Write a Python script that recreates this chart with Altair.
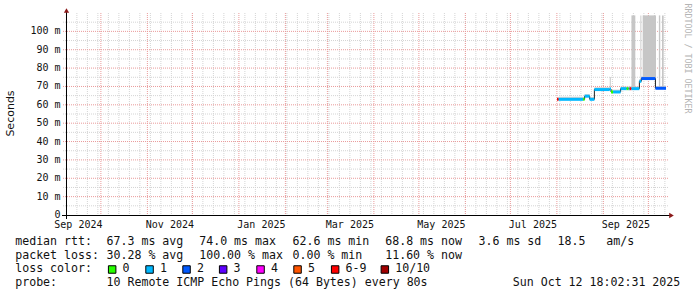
import altair as alt
import pandas as pd

# ---------------- data ----------------
seg_start = ["2025-08-01T02:00:00Z", "2025-08-02T05:00:00Z", "2025-08-18T12:00:00Z", "2025-08-19T12:00:00Z",
             "2025-08-22T21:00:00Z", "2025-08-26T00:00:00Z", "2025-09-05T05:00:00Z", "2025-09-06T02:00:00Z",
             "2025-09-07T12:00:00Z", "2025-09-12T12:00:00Z", "2025-09-16T12:00:00Z", "2025-09-17T20:00:00Z",
             "2025-09-18T12:00:00Z", "2025-09-19T17:00:00Z", "2025-09-25T00:00:00Z", "2025-09-26T07:00:00Z",
             "2025-10-05T17:00:00Z"]
seg_end = seg_start[1:] + ["2025-10-12T18:00:00Z"]
seg_median = [63.0, 63.0, 63.0, 64.7, 63.0, 68.3, 68.6, 67.0, 67.0, 68.8, 68.8, 68.8, 68.8, 68.8, 72.8, 74.3, 69.0]
seg_smoke = [64.0, 64.4, 64.2, 65.8, 64.2, 69.6, 75.2, 68.2, 68.3, 70.0, 70.0, 70.0, 70.2, 70.0, 74.0, 75.5, 70.2]
seg_loss = ["6-9", "1", "0", "1", "1", "1", "1", "0", "1", "1", "0", "1", "6-9", "1", "1", "2", "2"]

tall_start = ["2025-09-19T17:00:00Z", "2025-09-25T17:00:00Z", "2025-09-27T05:00:00Z",
              "2025-10-08T00:00:00Z", "2025-10-10T02:00:00Z"]
tall_end = ["2025-09-22T07:00:00Z", "2025-09-26T07:00:00Z", "2025-10-06T02:00:00Z",
            "2025-10-08T22:00:00Z", "2025-10-11T05:00:00Z"]
tall_low = [69.5, 73.0, 75.0, 70.0, 70.0]
tall_high = [108.7, 108.7, 108.7, 108.7, 108.7]

loss_labels = ["0", "1", "2", "3", "4", "5", "6-9", "10/10"]
loss_colors = ["#26ff00", "#00b8ff", "#0059ff", "#5e00ff", "#ff00fe", "#ff5500", "#ff0000", "#a10000"]

x_label_dates = ["2024-09-16T00:00:00Z", "2024-11-16T00:00:00Z", "2025-01-16T00:00:00Z",
                 "2025-03-16T00:00:00Z", "2025-05-16T00:00:00Z", "2025-07-16T00:00:00Z",
                 "2025-09-16T00:00:00Z"]
x_label_text = ["Sep 2024", "Nov 2024", "Jan 2025", "Mar 2025", "May 2025", "Jul 2025", "Sep 2025"]
y_tick_values = [0, 10, 20, 30, 40, 50, 60, 70, 80, 90, 100]
y_tick_text = ["0", "10 m", "20 m", "30 m", "40 m", "50 m", "60 m", "70 m", "80 m", "90 m", "100 m"]

rtt_avg, rtt_max, rtt_min, rtt_now, rtt_sd, rtt_ams = "67.3", "74.0", "62.6", "68.8", "3.6", "18.5"
loss_avg, loss_max, loss_min, loss_now = "30.28", "100.00", "0.00", "11.60"
probe_text = "10 Remote ICMP Echo Pings (64 Bytes) every 80s"
stamp_text = "Sun Oct 12 18:02:31 2025"

# ---------------- layout ----------------
W, H = 600, 202
LEFT, TOP = 66, 13
MONO = "DejaVu Sans Mono"
NB = "\u00a0"


def ms(s):
    return int(pd.Timestamp(s).timestamp() * 1000)


xs = alt.Scale(type="utc", domain=[ms("2024-09-07T18:00:00Z"), ms("2025-10-12T18:00:00Z")])
ys = alt.Scale(domain=[0, 110])

segs = pd.DataFrame({"start": seg_start, "end": seg_end, "median": seg_median,
                     "smoke": seg_smoke, "loss": seg_loss})
steps = pd.DataFrame({"t": seg_start + [seg_end[-1]], "m": seg_median + [seg_median[-1]]})
tall = pd.DataFrame({"start": tall_start, "end": tall_end, "lo": tall_low, "hi": tall_high})

sundays = [d.strftime("%Y-%m-%dT00:00:00Z") for d in pd.date_range("2024-09-08", "2025-10-12", freq="7D")]
months = [d.strftime("%Y-%m-%dT00:00:00Z") for d in pd.date_range("2024-10-01", "2025-10-01", freq="MS")]
minor_y = [v for v in range(5, 110, 5) if v % 10 != 0]
major_y = list(range(10, 110, 10))

GRID = "#d4d4d4"
MGRID = "#ea9a9a"

vminor = alt.Chart(pd.DataFrame({"d": sundays})).mark_rule(color=GRID, strokeDash=[1, 1], strokeWidth=1).encode(
    x=alt.X("d:T", scale=xs, axis=None), y=alt.value(0), y2=alt.value(H))
vmajor = alt.Chart(pd.DataFrame({"d": months})).mark_rule(color=MGRID, strokeDash=[1, 1], strokeWidth=1).encode(
    x=alt.X("d:T", scale=xs, axis=None), y=alt.value(0), y2=alt.value(H))
hminor = alt.Chart(pd.DataFrame({"v": minor_y})).mark_rule(color=GRID, strokeDash=[1, 1], strokeWidth=1).encode(
    y=alt.Y("v:Q", scale=ys, axis=None), x=alt.value(-3), x2=alt.value(W + 2))
hmajor = alt.Chart(pd.DataFrame({"v": major_y})).mark_rule(color=MGRID, strokeDash=[1, 1], strokeWidth=1).encode(
    y=alt.Y("v:Q", scale=ys, axis=None), x=alt.value(-3), x2=alt.value(W + 2))

smoke = alt.Chart(segs).mark_rect(color="#d4d4d4").encode(
    x=alt.X("start:T", scale=xs, axis=None), x2="end:T",
    y=alt.Y("median:Q", scale=ys, axis=None), y2="smoke:Q")
tallsmoke = alt.Chart(tall).mark_rect(color="#c6c6c6").encode(
    x=alt.X("start:T", scale=xs, axis=None), x2="end:T",
    y=alt.Y("lo:Q", scale=ys, axis=None), y2="hi:Q")

stepline = alt.Chart(steps).mark_line(interpolate="step-after", color="#202020", strokeWidth=1).encode(
    x=alt.X("t:T", scale=xs, axis=None), y=alt.Y("m:Q", scale=ys, axis=None))

colored = alt.Chart(segs).mark_rule(strokeWidth=3, strokeCap="butt").encode(
    x=alt.X("start:T", scale=xs, axis=None), x2="end:T",
    y=alt.Y("median:Q", scale=ys, axis=None),
    color=alt.Color("loss:N", scale=alt.Scale(domain=loss_labels, range=loss_colors), legend=None))

ylabels = alt.Chart(pd.DataFrame({"v": y_tick_values, "t": y_tick_text})).mark_text(
    font=MONO, fontSize=10, color="#111111", baseline="middle", align="right").encode(
    y=alt.Y("v:Q", scale=ys, axis=None), x=alt.value(-5.5), text="t:N")

# axes lines and arrows
xaxis = alt.Chart(pd.DataFrame({"a": [0]})).mark_rule(color="#000000", strokeWidth=1).encode(
    x=alt.value(-4), x2=alt.value(W + 4), y=alt.value(H + 0.5))
yaxis = alt.Chart(pd.DataFrame({"a": [0]})).mark_rule(color="#000000", strokeWidth=1).encode(
    x=alt.value(0.5), y=alt.value(H + 4), y2=alt.value(-3))
arrow_up = alt.Chart(pd.DataFrame({"a": [0]})).mark_point(
    shape="triangle-up", filled=True, color="#8b1a1a", size=28, opacity=1).encode(
    x=alt.value(0.5), y=alt.value(-2.5))
arrow_right = alt.Chart(pd.DataFrame({"a": [0]})).mark_point(
    shape="triangle-right", filled=True, color="#8b1a1a", size=28, opacity=1).encode(
    x=alt.value(W + 5.5), y=alt.value(H + 0.5))

xlabels = alt.Chart(pd.DataFrame({"d": x_label_dates, "t": x_label_text})).mark_text(
    font=MONO, fontSize=10, color="#111111", baseline="middle", align="center").encode(
    x=alt.X("d:T", scale=xs, axis=None), y=alt.value(H + 9.5), text="t:N")

ytitle = alt.Chart(pd.DataFrame({"a": [0]})).mark_text(
    text="Seconds", font="DejaVu Sans", fontSize=11, angle=270, baseline="middle", align="center",
    color="#111111").encode(x=alt.value(10.8 - LEFT), y=alt.value(113.5 - TOP))

watermark = alt.Chart(pd.DataFrame({"a": [0]})).mark_text(
    text="RRDTOOL / TOBI OETIKER", font=MONO, fontSize=8.3, angle=90, baseline="middle",
    align="center", color="#b4b4b4").encode(x=alt.value(686.5 - LEFT), y=alt.value(58.5 - TOP))


def sp(s):
    return s.replace(" ", NB)


rows = []
b1, b2, b3, b4 = 245 - TOP, 258.7 - TOP, 272.3 - TOP, 286 - TOP


def add(text, ink_x, base):
    rows.append({"tx": ink_x - LEFT - 0.8, "ty": base, "text": sp(text)})


add("median rtt:", 16, b1)
add(f"{rtt_avg} ms avg", 107.3, b1)
add(f"{rtt_max} ms max", 200, b1)
add(f"{rtt_min} ms min", 293.3, b1)
add(f"{rtt_now} ms now", 386, b1)
add(f"{rtt_sd} ms sd", 479.3, b1)
add(f"{rtt_ams}   am/s", 558.3, b1)
add("packet loss:", 16, b2)
add(f"{loss_avg} % avg", 107.3, b2)
add(f"{loss_max} % max", 200, b2)
add(f"{loss_min} % min", 293.3, b2)
add(f"{loss_now} % now", 386, b2)
add("loss color:", 16, b3)
box_left = [108.3, 145.7, 182.7, 219.3, 256.7, 293.7, 331.3, 381.0]
for bl, lab in zip(box_left, loss_labels):
    add(lab, bl + 15, b3)
add("probe:", 16, b4)
add(probe_text, 107.3, b4)

legend_text = alt.Chart(pd.DataFrame(rows)).mark_text(
    font=MONO, fontSize=11.6, align="left", baseline="alphabetic", color="#111111").encode(
    x=alt.X("tx:Q", scale=None), y=alt.Y("ty:Q", scale=None), text="text:N")

stamp = alt.Chart(pd.DataFrame({"a": [0]})).mark_text(
    text=stamp_text, font=MONO, fontSize=11.6, align="right", baseline="alphabetic",
    color="#111111").encode(x=alt.value(680.3 - LEFT), y=alt.value(b4))

boxes = alt.Chart(pd.DataFrame({"bx": [b + 3.85 - LEFT for b in box_left], "lab": loss_labels})).mark_square(
    size=56, stroke="#000000", strokeWidth=1, opacity=1, filled=True).encode(
    x=alt.X("bx:Q", scale=None), y=alt.value(269.5 - TOP),
    fill=alt.Fill("lab:N", scale=alt.Scale(domain=loss_labels, range=loss_colors), legend=None))

chart = alt.layer(
    vminor, vmajor, hminor, hmajor, smoke, tallsmoke, stepline, colored, ylabels,
    xaxis, yaxis, arrow_up, arrow_right, xlabels, ytitle, watermark, legend_text, stamp, boxes
).resolve_scale(color="independent").properties(
    width=W, height=H,
    padding={"left": LEFT, "top": TOP, "right": 697 - LEFT - W, "bottom": 297 - TOP - H},
    autosize=alt.AutoSizeParams(type="none"),
    background="#ffffff"
).configure_view(strokeWidth=0)

chart.save("out.html", embed_options={"renderer": "svg", "actions": False})
